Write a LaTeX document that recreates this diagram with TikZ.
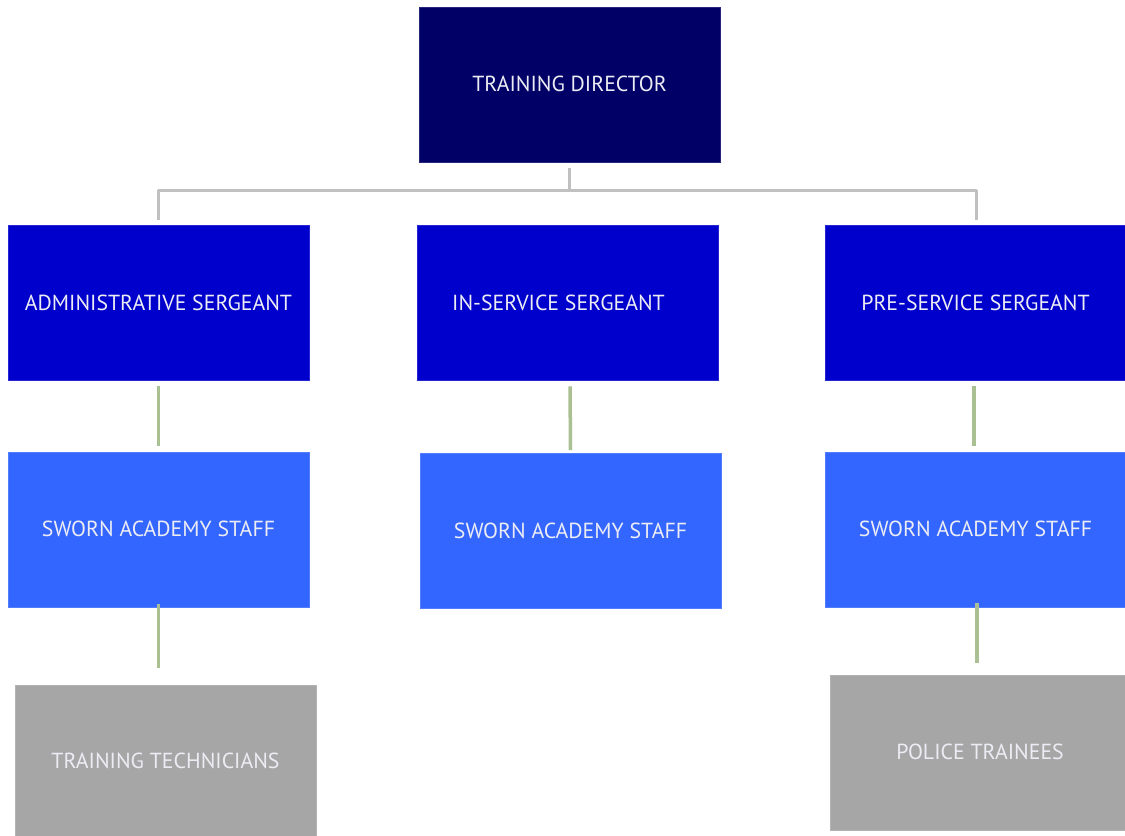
\documentclass[tikz,border=0pt]{standalone}
\usepackage{fontspec}
\setmainfont{PT Sans}
\begin{document}
\begin{tikzpicture}[x=1bp,y=-1bp,
  box/.style={minimum width=301bp,minimum height=155bp,inner sep=0pt,
    draw=#1!85!white,line width=0.6bp,fill=#1,text=txt,font=\fontsize{21.8bp}{24bp}\selectfont},
  busline/.style={draw=busgray,line width=3bp},
  stemline/.style={draw=stemgreen,line width=3.5bp}]
\definecolor{dirblue}{RGB}{0,0,102}
\definecolor{sgtblue}{RGB}{0,0,204}
\definecolor{staffblue}{RGB}{51,102,255}
\definecolor{boxgray}{RGB}{166,166,166}
\definecolor{busgray}{RGB}{192,192,192}
\definecolor{stemgreen}{RGB}{170,192,146}
\definecolor{txt}{RGB}{236,236,244}
\useasboundingbox (0,0) rectangle (1125,836);
% top level
\node[box=dirblue] (dir) at (569.5,85) {\raisebox{2bp}{TRAINING DIRECTOR}};
% sergeants
\node[box=sgtblue] (adm) at (158.5,302.5) {ADMINISTRATIVE SERGEANT};
\node[box=sgtblue] (ins) at (567.5,302.5) {IN-SERVICE SERGEANT\hspace*{18bp}};
\node[box=sgtblue] (pre) at (975.5,302.5) {PRE-SERVICE SERGEANT};
% sworn staff
\node[box=staffblue] (admstaff) at (158.5,529.5) {\raisebox{1bp}{SWORN ACADEMY STAFF}};
\node[box=staffblue] (insstaff) at (570.5,531) {\raisebox{1bp}{SWORN ACADEMY STAFF}};
\node[box=staffblue] (prestaff) at (975.5,529.5) {\raisebox{1bp}{SWORN ACADEMY STAFF}};
% civilians and trainees
\node[box=boxgray] (tech) at (165.5,762.5) {\raisebox{3bp}{TRAINING TECHNICIANS}};
\node[box=boxgray,minimum width=295bp] (trainees) at (977.5,753) {\hspace*{5bp}\raisebox{2bp}{POLICE TRAINEES}};
% bus from director to sergeants
\coordinate (bus) at (570,190);
\draw[busline] ([yshift=-5bp]dir.south) -- (dir.south |- bus);
\draw[busline,line join=round] ([yshift=5bp]adm.north) -- (adm.north |- bus) -- ([xshift=0.5bp]pre.north |- bus) -- ([xshift=0.5bp,yshift=5bp]pre.north);
% stems from sergeants to staff
\draw[stemline] ([yshift=-6bp]adm.south) -- ([yshift=6bp]admstaff.north -| adm.south);
\draw[stemline] ([xshift=2.5bp,yshift=-6bp]ins.south) -- ([yshift=3bp]insstaff.north);
\draw[stemline] ([xshift=-1.5bp,yshift=-6bp]pre.south) -- ([xshift=-1.5bp,yshift=6bp]prestaff.north);
% stems from staff to bottom row
\coordinate (prestem) at ([xshift=1.5bp]prestaff.south);
\draw[stemline] ([yshift=3bp]admstaff.south) -- ([yshift=17bp]tech.north -| admstaff.south);
\draw[stemline] ([yshift=4bp]prestem) -- ([yshift=12bp]trainees.north -| prestem);
\end{tikzpicture}
\end{document}
